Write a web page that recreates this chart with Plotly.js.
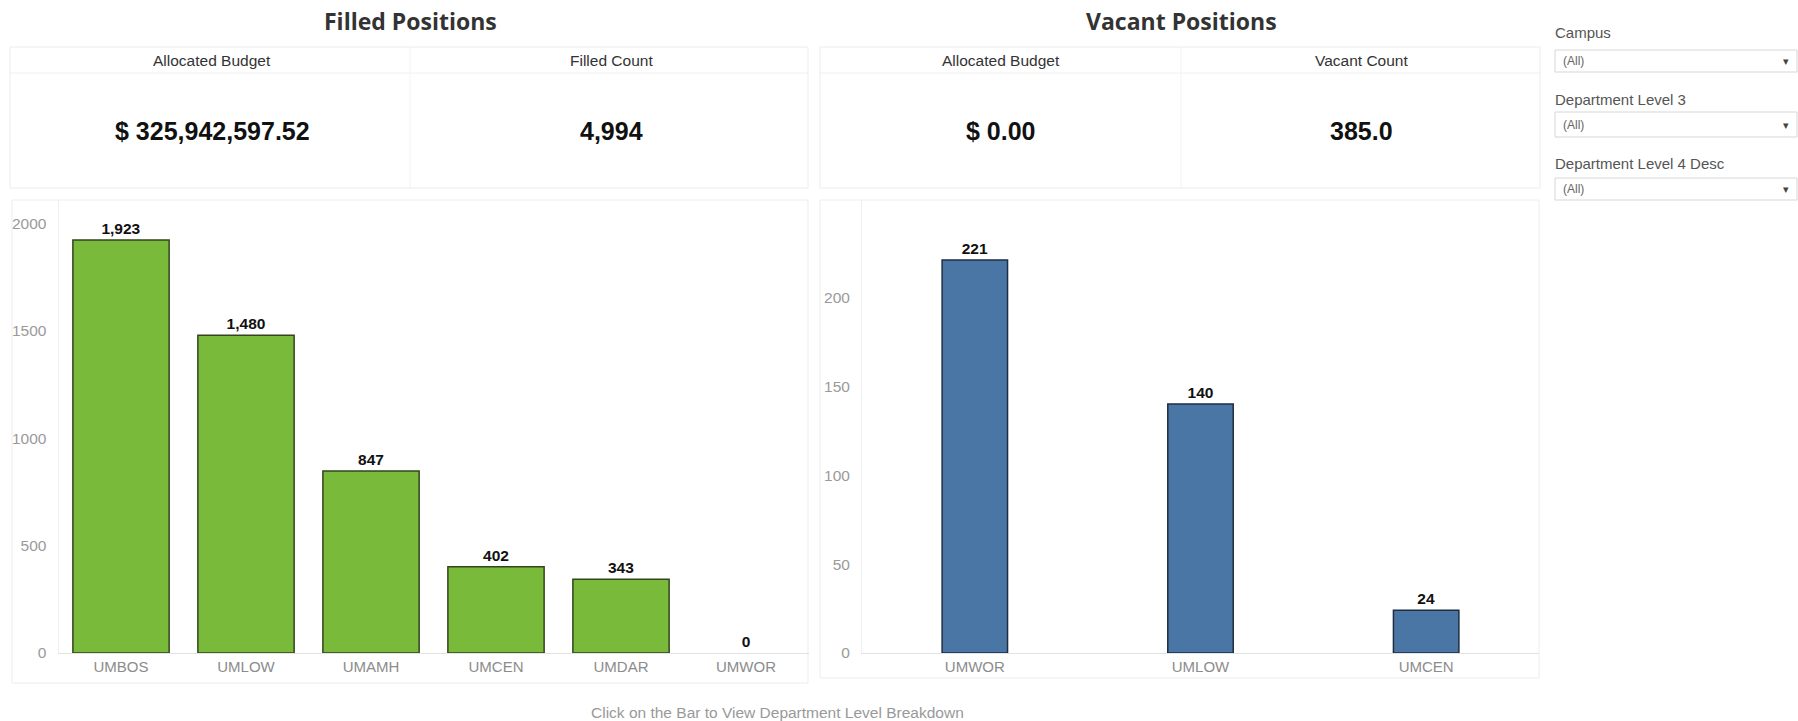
<!DOCTYPE html>
<html>
<head>
<meta charset="utf-8">
<script src="https://cdn.plot.ly/plotly-3.0.1.min.js"></script>
<style>
html,body{margin:0;padding:0;background:#fff;}
#chart{width:1798px;height:721px;}
</style>
</head>
<body>
<div id="chart"></div>
<script>
// ---- data ----
const filledCategories = ['UMBOS', 'UMLOW', 'UMAMH', 'UMCEN', 'UMDAR', 'UMWOR'];
const filledCounts = [1923, 1480, 847, 402, 343, 0];
const vacantCategories = ['UMWOR', 'UMLOW', 'UMCEN'];
const vacantCounts = [221, 140, 24];
const panelTitles = ['Filled Positions', 'Vacant Positions'];
const filledKpiHeaders = ['Allocated Budget', 'Filled Count'];
const filledKpiValues = ['$ 325,942,597.52', '4,994'];
const vacantKpiHeaders = ['Allocated Budget', 'Vacant Count'];
const vacantKpiValues = ['$ 0.00', '385.0'];
const filterLabels = ['Campus', 'Department Level 3', 'Department Level 4 Desc'];
const filterValues = ['(All)', '(All)', '(All)'];
const footerText = 'Click on the Bar to View Department Level Breakdown';

// ---- helpers (pixel -> paper) ----
const W = 1798, H = 721;
const px = x => x / W;
const py = y => 1 - y / H;
const FONT = 'Liberation Sans, Arial, sans-serif';

const traces = [
  {
    type: 'bar', x: filledCategories, y: filledCounts, xaxis: 'x', yaxis: 'y',
    width: 0.77,
    marker: {color: '#7aba3a', line: {color: '#33441f', width: filledCounts.map(v => v ? 1.5 : 0)}},
    texttemplate: '%{y:,}', textposition: 'outside', cliponaxis: false,
    textfont: {family: FONT, size: 15.5, color: '#111', weight: 'bold'},
    hoverinfo: 'x+y', showlegend: false
  },
  {
    type: 'bar', x: vacantCategories, y: vacantCounts, xaxis: 'x2', yaxis: 'y2',
    width: 0.29,
    marker: {color: '#4a76a6', line: {color: '#1f2d42', width: vacantCounts.map(v => v ? 1.5 : 0)}},
    texttemplate: '%{y:,}', textposition: 'outside', cliponaxis: false,
    textfont: {family: FONT, size: 15.5, color: '#111', weight: 'bold'},
    hoverinfo: 'x+y', showlegend: false
  }
];

const shapes = [];
const annotations = [];

function rect(x0, y0, x1, y1, color, fill) {
  shapes.push({type: 'rect', xref: 'paper', yref: 'paper', x0: px(x0), x1: px(x1), y0: py(y1), y1: py(y0),
    line: {color: color, width: 1}, fillcolor: fill || 'rgba(0,0,0,0)', layer: 'below'});
}
function line(x0, y0, x1, y1, color) {
  shapes.push({type: 'line', xref: 'paper', yref: 'paper', x0: px(x0), x1: px(x1), y0: py(y0), y1: py(y1),
    line: {color: color, width: 1}, layer: 'below'});
}
function text(t, x, y, size, color, opts) {
  opts = opts || {};
  annotations.push({text: t, xref: 'paper', yref: 'paper', x: px(x), y: py(y), showarrow: false,
    xanchor: opts.xanchor || 'center', yanchor: 'middle',
    font: {family: opts.family || FONT, size: size, color: color, weight: opts.weight || 'normal'}});
}

// Titles
text(panelTitles[0], 410, 21, 23, '#333', {family: 'Open Sans, sans-serif', weight: 'bold'});
text(panelTitles[1], 1181, 21, 23, '#333', {family: 'Open Sans, sans-serif', weight: 'bold'});

// KPI boxes
const kpiBoxes = [
  {x0: 10, x1: 808, mid: 410, c: [212, 611], h: filledKpiHeaders, v: filledKpiValues},
  {x0: 820, x1: 1540, mid: 1181, c: [1001, 1361], h: vacantKpiHeaders, v: vacantKpiValues}
];
kpiBoxes.forEach(b => {
  rect(b.x0, 47, b.x1, 188, '#ececec');
  line(b.x0, 73, b.x1, 73, '#f0f0f0');
  line(b.mid, 47, b.mid, 188, '#f3f3f3');
  for (let i = 0; i < 2; i++) {
    text(b.h[i], b.c[i], 61, 15.5, '#333');
    text(b.v[i], b.c[i], 131, 25, '#111', {weight: 'bold'});
  }
});

// Chart panels
rect(12, 200, 808, 683, '#ececec');
rect(820, 200, 1539, 678, '#ececec');

// Filters
const filterRows = [{ly: 33, by0: 50, by1: 72}, {ly: 100, by0: 112, by1: 137}, {ly: 163, by0: 178, by1: 200}];
filterRows.forEach((r, i) => {
  text(filterLabels[i], 1553, r.ly, 15, '#555', {xanchor: 'left'});
  rect(1555, r.by0, 1797, r.by1, '#d6d6d6', '#ffffff');
  text(filterValues[i], 1561, (r.by0 + r.by1) / 2, 12, '#666', {xanchor: 'left'});
  text('▾', 1786, (r.by0 + r.by1) / 2, 11, '#444');
});

// Footer
text(footerText, 777, 712, 15.5, '#999');

const axisBase = {
  tickfont: {family: FONT, size: 15, color: '#8c8c8c'},
  showgrid: false, zeroline: false, fixedrange: true,
  showline: true, linecolor: '#e2e2e2', linewidth: 1, ticks: ''
};
const yBase = {
  tickfont: {family: FONT, size: 15.5, color: '#9a9a9a'},
  showgrid: false, zeroline: false, fixedrange: true,
  showline: true, linecolor: '#f0f0f0', ticks: '', ticklabelstandoff: 8
};

const layout = {
  width: W, height: H,
  margin: {l: 0, r: 0, t: 0, b: 0},
  paper_bgcolor: '#fff', plot_bgcolor: '#fff',
  showlegend: false,
  xaxis: Object.assign({}, axisBase, {domain: [px(58.5), px(808.5)], range: [-0.5, 5.5], anchor: 'y', type: 'category'}),
  yaxis: Object.assign({}, yBase, {domain: [py(653), py(200)], range: [0, 453 / 0.21477], tickvals: [0, 500, 1000, 1500, 2000], anchor: 'x'}),
  xaxis2: Object.assign({}, axisBase, {domain: [px(862), px(1539)], range: [-0.5, 2.5], anchor: 'y2', type: 'category'}),
  yaxis2: Object.assign({}, yBase, {domain: [py(653), py(200)], range: [0, 453 / 1.778], tickvals: [0, 50, 100, 150, 200], anchor: 'x2'}),
  shapes: shapes,
  annotations: annotations,
  font: {family: FONT}
};

Plotly.newPlot('chart', traces, layout, {displayModeBar: false});
</script>
</body>
</html>
